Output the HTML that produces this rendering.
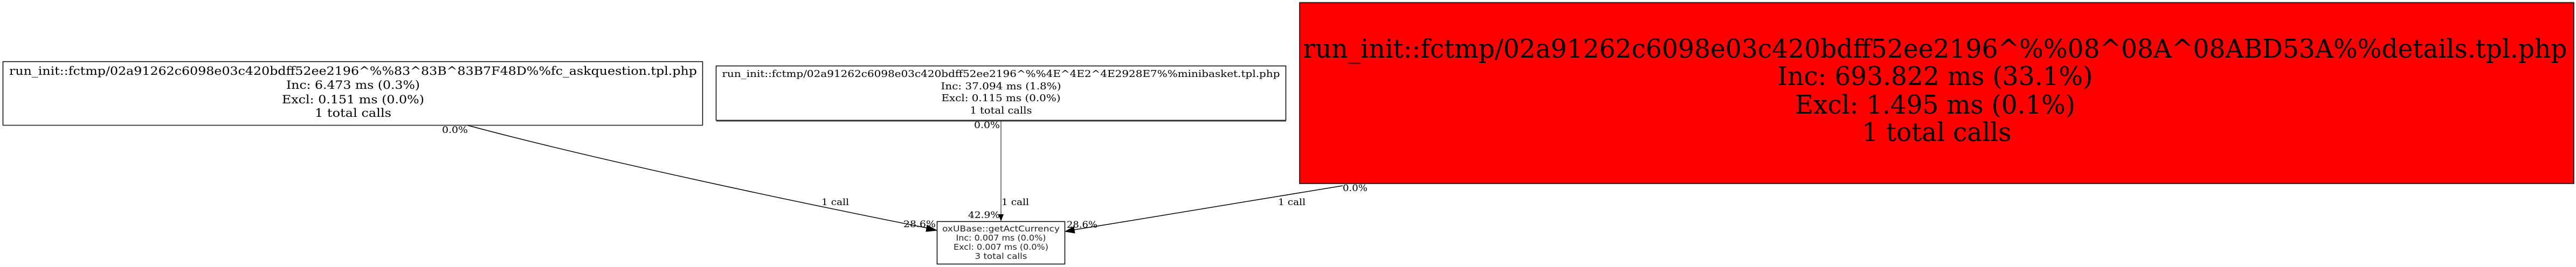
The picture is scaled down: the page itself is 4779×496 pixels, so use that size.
<!DOCTYPE html>
<html><head><meta charset="utf-8"><style>
html,body{margin:0;padding:0;background:#fff;}
svg{display:block;}
.s{font-family:"DejaVu Serif","Liberation Serif",serif;fill:#000;}
.d{font-family:"DejaVu Sans","Liberation Sans",sans-serif;fill:#222;}
</style></head><body>
<svg width="4779" height="496" viewBox="0 0 4779 496" xmlns="http://www.w3.org/2000/svg">
<rect width="4779" height="496" fill="#fff"/>
<rect x="5.5" y="114.5" width="1298" height="118" fill="#fff" stroke="#000" stroke-width="1.5"/>
<line x1="6" y1="233" x2="1304" y2="233" stroke="#666" stroke-width="2"/>
<g class="s" font-size="21" text-anchor="middle">
<text x="655" y="139" textLength="1276" lengthAdjust="spacingAndGlyphs">run_init::fctmp/02a91262c6098e03c420bdff52ee2196^%%83^83B^83B7F48D%%fc_askquestion.tpl.php</text>
<text x="655" y="165" textLength="248" lengthAdjust="spacingAndGlyphs">Inc: 6.473 ms (0.3%)</text>
<text x="655" y="192" textLength="264" lengthAdjust="spacingAndGlyphs">Excl: 0.151 ms (0.0%)</text>
<text x="655" y="217" textLength="142" lengthAdjust="spacingAndGlyphs">1 total calls</text>
</g>
<rect x="1328.5" y="122.5" width="1057" height="101" fill="#fff" stroke="#000" stroke-width="1.5"/>
<line x1="1329" y1="225" x2="2386" y2="225" stroke="#666" stroke-width="2"/>
<g class="s" font-size="18" text-anchor="middle">
<text x="1857" y="143" textLength="1035" lengthAdjust="spacingAndGlyphs">run_init::fctmp/02a91262c6098e03c420bdff52ee2196^%%4E^4E2^4E2928E7%%minibasket.tpl.php</text>
<text x="1857" y="166" textLength="223" lengthAdjust="spacingAndGlyphs">Inc: 37.094 ms (1.8%)</text>
<text x="1857" y="188" textLength="221" lengthAdjust="spacingAndGlyphs">Excl: 0.115 ms (0.0%)</text>
<text x="1857" y="211" textLength="115" lengthAdjust="spacingAndGlyphs">1 total calls</text>
</g>
<rect x="2411" y="5" width="2364" height="336" fill="#ff0000" stroke="#000" stroke-width="1.5"/>
<line x1="2411" y1="4" x2="4775" y2="4" stroke="#888" stroke-width="1"/>
<g class="s" font-size="48" text-anchor="middle">
<text x="3590" y="107" textLength="2345" lengthAdjust="spacingAndGlyphs">run_init::fctmp/02a91262c6098e03c420bdff52ee2196^%%08^08A^08ABD53A%%details.tpl.php</text>
<text x="3590" y="158" textLength="585" lengthAdjust="spacingAndGlyphs">Inc: 693.822 ms (33.1%)</text>
<text x="3590" y="211" textLength="520" lengthAdjust="spacingAndGlyphs">Excl: 1.495 ms (0.1%)</text>
<text x="3593" y="262" textLength="277" lengthAdjust="spacingAndGlyphs">1 total calls</text>
</g>
<rect x="1738.5" y="411.5" width="237" height="79" fill="#fff" stroke="#000" stroke-width="1.5"/>
<g class="d" font-size="15" text-anchor="middle">
<text x="1857" y="430" textLength="218" lengthAdjust="spacingAndGlyphs">oxUBase::getActCurrency</text>
<text x="1857" y="447" textLength="167" lengthAdjust="spacingAndGlyphs">Inc: 0.007 ms (0.0%)</text>
<text x="1857" y="464" textLength="176" lengthAdjust="spacingAndGlyphs">Excl: 0.007 ms (0.0%)</text>
<text x="1857" y="481" textLength="97" lengthAdjust="spacingAndGlyphs">3 total calls</text>
</g>
<path d="M868,233 C1100,295 1450,370 1722,424" fill="none" stroke="#000" stroke-width="1.5"/>
<polygon points="1738,428 1720,418 1718,430" fill="#000" stroke="#000"/>
<line x1="1857" y1="225" x2="1857" y2="398" stroke="#000" stroke-width="1"/>
<polygon points="1857,411 1852,398 1862,398" fill="#000"/>
<path d="M2491,345 C2300,375 2150,402 1992,427" fill="none" stroke="#000" stroke-width="1.5"/>
<polygon points="1976,430 1992,421 1994,433" fill="#000" stroke="#000"/>
<g class="s" font-size="17">
<text x="820" y="247" textLength="48" lengthAdjust="spacingAndGlyphs">0.0%</text>
<text x="1524" y="381" textLength="51" lengthAdjust="spacingAndGlyphs">1 call</text>
<text x="1676" y="422" textLength="60" lengthAdjust="spacingAndGlyphs">28.6%</text>
<text x="1807" y="238" textLength="48" lengthAdjust="spacingAndGlyphs">0.0%</text>
<text x="1858" y="381" textLength="51" lengthAdjust="spacingAndGlyphs">1 call</text>
<text x="1796" y="405" textLength="59" lengthAdjust="spacingAndGlyphs">42.9%</text>
<text x="2491" y="355" textLength="46" lengthAdjust="spacingAndGlyphs">0.0%</text>
<text x="2371" y="381" textLength="51" lengthAdjust="spacingAndGlyphs">1 call</text>
<text x="1979" y="423" textLength="57" lengthAdjust="spacingAndGlyphs">28.6%</text>
</g>
</svg>
</body></html>
